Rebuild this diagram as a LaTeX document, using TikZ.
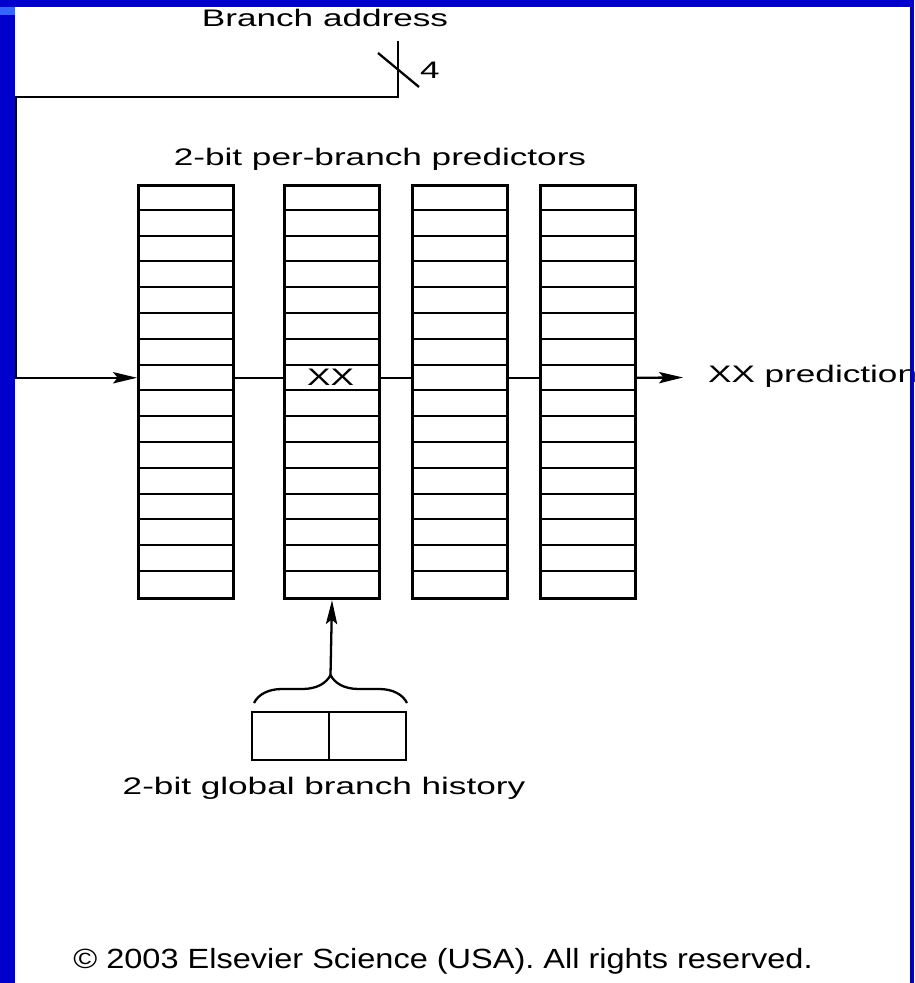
\documentclass[tikz,border=0pt]{standalone}
\usepackage{fontspec}
\setsansfont{Liberation Sans}
\usetikzlibrary{arrows.meta,decorations.pathreplacing}

\definecolor{slideblue}{RGB}{0,0,204}
\definecolor{slidelight}{RGB}{51,102,255}

\tikzset{
  lbl/.style={font=\sffamily\fontsize{6.8}{8}\selectfont, xscale=1.47, inner sep=0pt},
  wire/.style={line width=0.65pt},
  pht/.style={draw, line width=0.85pt, minimum width=0.95cm, minimum height=4.13cm, inner sep=0pt},
  entry/.style={line width=0.6pt},
  histreg/.style={draw, line width=0.65pt, minimum width=1.54cm, minimum height=0.48cm, inner sep=0pt}
}

\begin{document}
\begin{tikzpicture}[x=0.01cm, y=-0.01cm, >={Stealth[length=6.8pt,width=3.2pt,inset=1.3pt]}]
  \useasboundingbox (0,0) rectangle (914,983);
  \fill[white] (0,0) rectangle (914,983);

  % four tables of 2-bit counters, 16 entries each
  \foreach \n/\x in {1/137, 2/283, 3/411, 4/539} {
    \node[pht, anchor=north west] (c\n) at (\x,184) {};
    \foreach \r in {1,...,15}
      \draw[entry] (\x,{184+\r*25.8}) -- ++(95,0);
  }
  \node[lbl, anchor=base] (xx) at (330.5,386) {XX};
  \node[lbl, anchor=base] (title) at (380,166) {2-bit per-branch predictors};

  % branch address bus, 4 bits wide
  \node[lbl, anchor=base] (addr) at (325,27) {Branch address};
  \coordinate (bus) at (398,41);
  \coordinate (turn) at (16,97);
  \draw[wire] (378,53) -- (419,87);
  \node[lbl, anchor=base] (width) at (430,79) {4};
  \draw[wire,->] (bus) |- (turn) |- (c1.west |- xx);

  % row passes through the tables
  \draw[wire] (c1.east |- xx) -- (c2.west |- xx);
  \draw[wire] (c2.east |- xx) -- (c3.west |- xx);
  \draw[wire] (c3.east |- xx) -- (c4.west |- xx);
  \coordinate (outtip) at (683,377.5);
  \draw[wire,->] (c4.east |- xx) -- (outtip);
  \node[lbl, anchor=base west] (out) at (707,383) {XX prediction};

  % global history register selects the table
  \node[histreg] (hist) at (329,736) {};
  \draw[wire] (hist.north) -- (hist.south);
  \draw[wire, decorate, decoration={brace, amplitude=0.28cm}] (254,703) -- (407,703);
  \coordinate (bt) at (330.5,675);
  \draw[wire,->] (bt) -- (c2.south);
  \node[lbl, anchor=base] (histlbl) at (324,794) {2-bit global branch history};

  \node[lbl, anchor=base, font=\sffamily\fontsize{7.9}{9}\selectfont, xscale=1.17/1.47] (copy) at (443,968)
    {\textcopyright\ 2003 Elsevier Science (USA). All rights reserved.};

  % slide frame
  \fill[slideblue] (0,0) rectangle (914,7.5);
  \fill[slideblue] (0,0) rectangle (15,983);
  \fill[slideblue] (910,0) rectangle (914,983);
  \fill[slidelight] (0,7.5) rectangle (15,15);
\end{tikzpicture}
\end{document}
